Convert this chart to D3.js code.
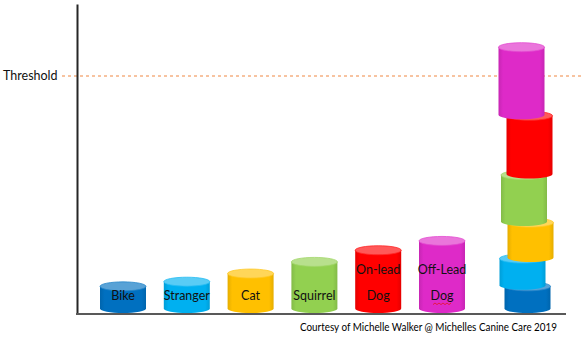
<!DOCTYPE html>
<html>
<head>
<meta charset="utf-8">
<script src="https://cdn.jsdelivr.net/npm/d3@7"></script>
<style>
  body { margin: 0; background: #fff; }
  svg { display: block; font-family: Lato, "Open Sans", sans-serif; }
</style>
</head>
<body>
<div id="container"></div>
<script>
// DATA
const triggers = ['Bike', 'Stranger', 'Cat', 'Squirrel', 'On-lead Dog', 'Off-Lead Dog']
const stress = [9.5, 11.5, 15, 20, 25, 29]
const labelLines = [['Bike'], ['Stranger'], ['Cat'], ['Squirrel'], ['On-lead', 'Dog'], ['Off-Lead', 'Dog']]
const colors = ['#0070C0', '#00B0F0', '#FFC000', '#92D050', '#FF0000', '#DE2AC8']
const thresholdValue = 100
const thresholdLabel = 'Threshold'
const credit = 'Courtesy of Michelle Walker @ Michelles Canine Care 2019'

const w = 582
const h = 342
const axisX = 77
const axisY = 314
const ry = 4.5
const cylW = 46
const stackGap = 1
const wobble = [1.5, -3.5, 4.5, -2, 3.5, -4.5] // the stack leans a little

const svg = d3.select('#container')
  .append('svg')
  .attr('width', w)
  .attr('height', h)

//SCALES
const x = d3.scalePoint()
  .domain(triggers)
  .range([123, 442])

const stackX = 526

const y = d3.scaleLinear()
  .domain([0, thresholdValue])
  .range([axisY - ry - 1, 75.5])

const pxPer = y(0) - y(1)

//GRADIENTS
const defs = svg.append('defs')
colors.forEach((c, i) => {
  const g = defs.append('linearGradient')
    .attr('id', 'grad' + i)
    .attr('x1', '0%').attr('x2', '100%')
  const dark = d3.color(c).darker(0.3)
  g.append('stop').attr('offset', '0%').attr('stop-color', dark)
  g.append('stop').attr('offset', '10%').attr('stop-color', c)
  g.append('stop').attr('offset', '90%').attr('stop-color', c)
  g.append('stop').attr('offset', '100%').attr('stop-color', dark)
})

function lighter(c) {
  return d3.interpolateRgb(c, '#fff')(0.35)
}

function cylinder(g, cx, yb, yt, i) {
  const l = cx - cylW / 2
  const r = cx + cylW / 2
  g.append('path')
    .attr('d', `M${l},${yt}L${l},${yb}A${cylW / 2},${ry} 0 0 0 ${r},${yb}L${r},${yt}Z`)
    .attr('fill', `url(#grad${i})`)
  g.append('ellipse')
    .attr('cx', cx)
    .attr('cy', yt)
    .attr('rx', cylW / 2)
    .attr('ry', ry)
    .attr('fill', lighter(colors[i]))
    .attr('stroke', d3.interpolateRgb(colors[i], '#fff')(0.15))
    .attr('stroke-width', 0.8)
}

//THRESHOLD
svg.append('line')
  .attr('x1', 62)
  .attr('x2', w)
  .attr('y1', Math.round(y(thresholdValue)))
  .attr('y2', Math.round(y(thresholdValue)))
  .attr('stroke', '#F7C3A0')
  .attr('stroke-width', 2)
  .attr('stroke-dasharray', '3,3')

svg.append('text')
  .attr('x', 3)
  .attr('y', y(thresholdValue))
  .attr('dy', '0.35em')
  .attr('font-size', 12.5)
  .attr('fill', '#111')
  .text(thresholdLabel)

//AXES
svg.append('g')
  .attr('transform', `translate(${axisX},0)`)
  .call(d3.axisLeft(d3.scaleLinear().range([axisY, 4])).tickValues([]).tickSizeOuter(0))
  .select('.domain')
  .attr('stroke', '#262626')
  .attr('stroke-width', 2)

svg.append('line')
  .attr('x1', axisX - 1)
  .attr('x2', 566)
  .attr('y1', axisY)
  .attr('y2', axisY)
  .attr('stroke', '#595959')
  .attr('stroke-width', 2)

//BARS
const bars = svg.append('g')
triggers.forEach((t, i) => {
  cylinder(bars, x(t), y(0), y(stress[i]), i)
})

//LABELS
const labels = svg.append('g')
  .attr('font-size', 12.5)
  .attr('fill', '#111')
  .attr('text-anchor', 'middle')

triggers.forEach((t, i) => {
  const lines = labelLines[i]
  lines.forEach((s, j) => {
    const fromBottom = lines.length - 1 - j
    labels.append('text')
      .attr('x', x(t))
      .attr('y', 296 - fromBottom * 26)
      .attr('dy', '0.35em')
      .text(s)
  })
})

// spell-check squiggle under the last "Dog"
const sq = x(triggers[5])
const sqPts = d3.range(0, 19, 2).map((d, k) => [sq - 9 + d, 304 + (k % 2 ? -1 : 0.6)])
svg.append('path')
  .attr('d', d3.line()(sqPts))
  .attr('fill', 'none')
  .attr('stroke', '#E81123')
  .attr('stroke-width', 0.8)

//STACK
const stack = svg.append('g')
let base = y(0)
stress.forEach((v, i) => {
  const top = base - v * pxPer
  cylinder(stack, stackX + wobble[i], base, top, i)
  base = top - stackGap
})

//CREDIT
svg.append('text')
  .attr('x', 300)
  .attr('y', 327)
  .attr('dy', '0.35em')
  .attr('font-size', 10.5)
  .attr('fill', '#000')
  .attr('textLength', 257)
  .attr('lengthAdjust', 'spacingAndGlyphs')
  .text(credit)
</script>
</body>
</html>
